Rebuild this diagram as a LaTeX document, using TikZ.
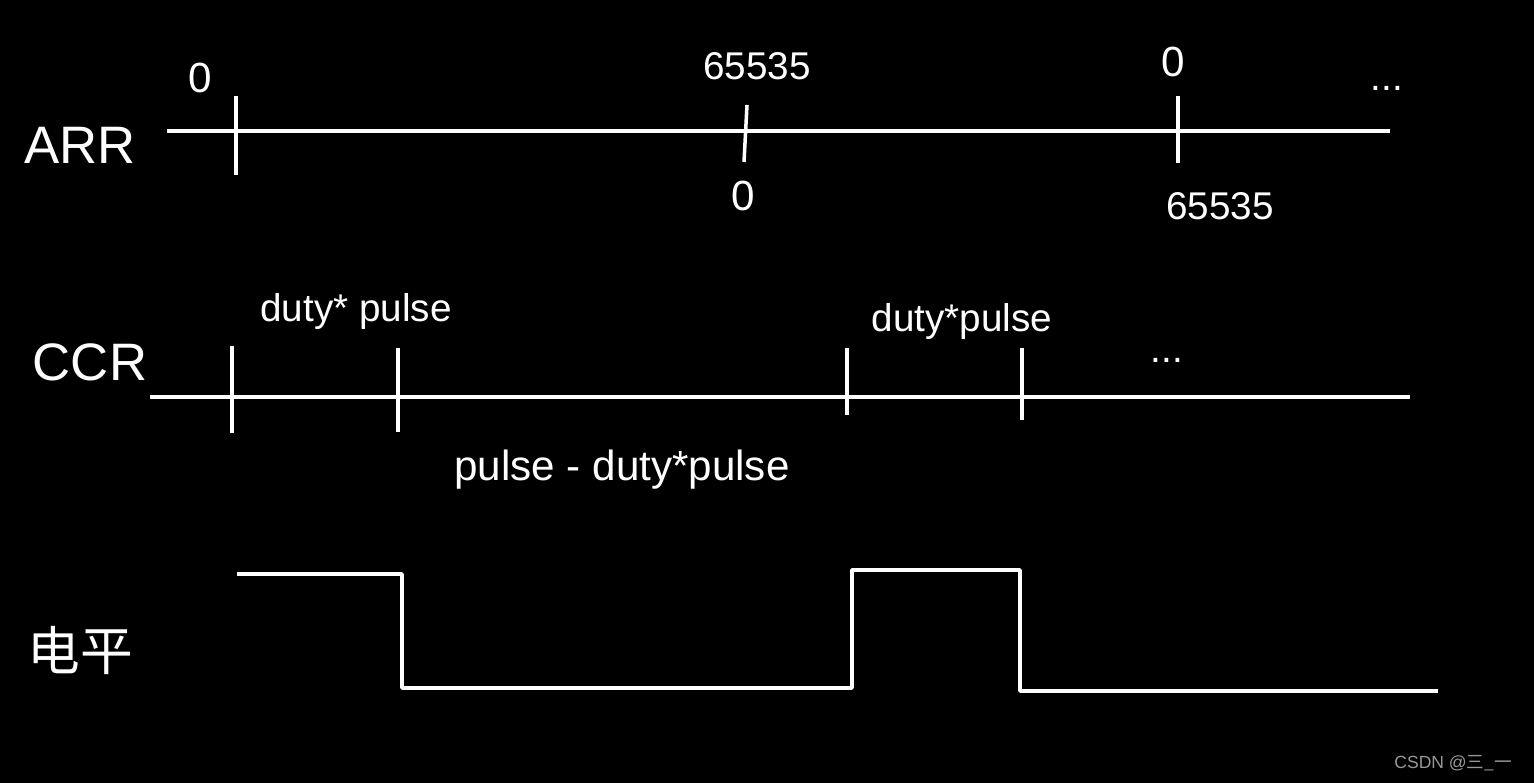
\documentclass[tikz,border=0pt]{standalone}
\usepackage{fontspec}
\setmainfont{Liberation Sans}
\newfontfamily\cjkfont{Noto Sans CJK SC}
\usetikzlibrary{positioning}

\begin{document}
\begin{tikzpicture}[
  x=0.02cm, y=-0.02cm,
  axis/.style={white, line width=2pt},
  tick/.style={white, line width=2pt},
  wave/.style={white, line width=2pt, line join=round},
  rowlabel/.style={text=white, font=\fontsize{30}{32}\selectfont},
  hand/.style={text=white, font=\fontsize{22}{24}\selectfont, inner sep=0pt},
  mark0/.style={text=white, font=\fontsize{24}{26}\selectfont, inner sep=0pt},
]
  % Background
  \fill[black] (0,0) rectangle (1534,783);

  % ARR row
  \node[rowlabel] (arr) at (80,145) {ARR};
  \draw[axis] (167,131) -- (1390,131);
  \draw[tick] (236,96) -- (236,175);
  \draw[tick] (747,105) -- (744,162);
  \draw[tick] (1178,96) -- (1178,163);
  \node[mark0] (arrA) at (200,78) {0};
  \node[hand] (arrB) at (757,66) {65535};
  \node[mark0] (arrC) at (1173,62) {0};
  \node[hand] (arrD) at (1387,88) {...};
  \node[mark0] (arrE) at (743,196) {0};
  \node[hand] (arrF) at (1220,206) {65535};

  % CCR row
  \node[rowlabel] (ccr) at (90,362) {CCR};
  \draw[axis] (150,397) -- (1410,397);
  \draw[tick] (232,346) -- (232,433);
  \draw[tick] (398,348) -- (398,432);
  \draw[tick] (847,348) -- (847,415);
  \draw[tick] (1022,348) -- (1022,420);
  \node[hand] (duty1) at (356,312) {duty* pulse};
  \node[hand] (duty2) at (962,322) {duty*pulse};
  \node[hand] (ccrD) at (1167,360) {...};
  \node[hand, font=\fontsize{24}{26}\selectfont] (rest) at (622,470)
    {pulse - duty*pulse};

  % Level row
  \node[rowlabel, font=\cjkfont\fontsize{30}{32}\selectfont] (lvl) at (80,650)
    {电平};
  \draw[wave] (237,574) -- (402,574) -- (402,688) -- (852,688)
    -- (852,570) -- (1020,570) -- (1020,691) -- (1438,691);

  % Watermark
  \node[text=gray!80, font=\fontsize{10}{12}\selectfont, anchor=east]
    (mark) at (1518,763) {CSDN @{\cjkfont 三\_一}};
\end{tikzpicture}
\end{document}
